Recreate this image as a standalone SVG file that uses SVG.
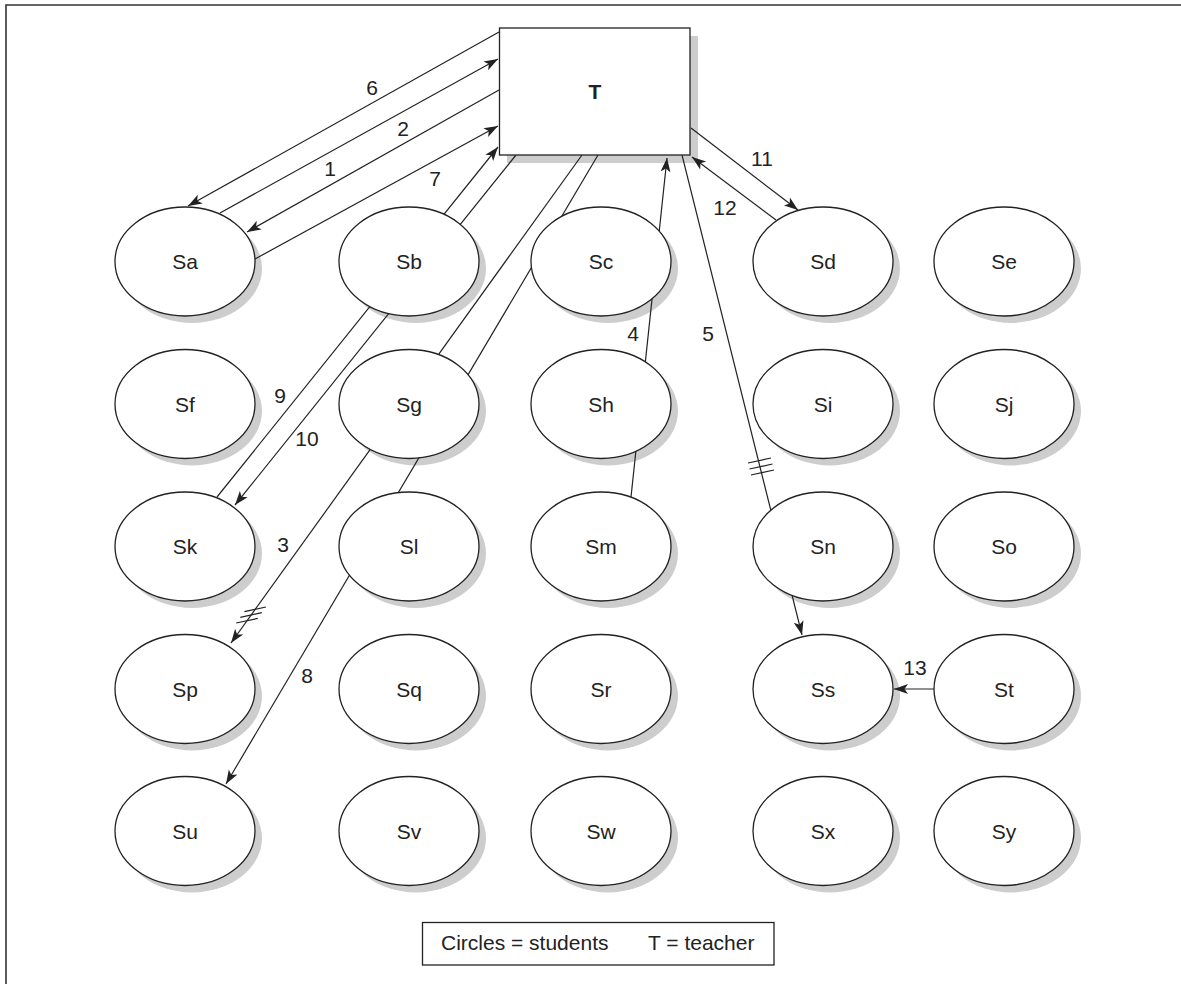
<svg xmlns="http://www.w3.org/2000/svg" width="1181" height="984" viewBox="0 0 1181 984">
<style>
.sh{fill:#cdcdcd;stroke:none}
.st{fill:#fff;stroke:#222;stroke-width:1.3}
.lb{font-family:"Liberation Sans",Arial,sans-serif;font-size:21px;fill:#222;text-anchor:middle}
.ln{stroke:#222;stroke-width:1.2;fill:none}
.ar{marker-end:url(#ah)}
</style>
<defs>
<marker id="ah" markerUnits="userSpaceOnUse" markerWidth="16" markerHeight="12" viewBox="0 -6 16 12" refX="14" refY="0" orient="auto">
<path d="M0,-5 L14,0 L0,5 L3.5,0 Z" fill="#222"/>
</marker>
<ellipse id="shE" rx="70" ry="54.5"/>
</defs>
<rect width="1181" height="984" fill="#fff"/>
<path d="M6,984 V5 H1181" fill="none" stroke="#333" stroke-width="1.6"/>

<g id="shadows" class="sh">
<rect x="507" y="36" width="191" height="127"/>
<use href="#shE" x="192" y="268.5"/><use href="#shE" x="416" y="268.5"/><use href="#shE" x="608" y="268.5"/><use href="#shE" x="830" y="268.5"/><use href="#shE" x="1011" y="268.5"/>
<use href="#shE" x="192" y="411"/><use href="#shE" x="416" y="411"/><use href="#shE" x="608" y="411"/><use href="#shE" x="830" y="411"/><use href="#shE" x="1011" y="411"/>
<use href="#shE" x="192" y="553.5"/><use href="#shE" x="416" y="553.5"/><use href="#shE" x="608" y="553.5"/><use href="#shE" x="830" y="553.5"/><use href="#shE" x="1011" y="553.5"/>
<use href="#shE" x="192" y="696"/><use href="#shE" x="416" y="696"/><use href="#shE" x="608" y="696"/><use href="#shE" x="830" y="696"/><use href="#shE" x="1011" y="696"/>
<use href="#shE" x="192" y="838"/><use href="#shE" x="416" y="838"/><use href="#shE" x="608" y="838"/><use href="#shE" x="830" y="838"/><use href="#shE" x="1011" y="838"/>
</g>

<g id="connectors">
<line class="ln ar" x1="499" y1="32" x2="188" y2="206"/>
<line class="ln ar" x1="220" y1="213" x2="498" y2="59"/>
<line class="ln ar" x1="499" y1="90" x2="247" y2="232"/>
<line class="ln ar" x1="255" y1="259" x2="498" y2="126"/>
<line class="ln ar" x1="217" y1="497" x2="498" y2="147"/>
<line class="ln ar" x1="516" y1="155" x2="235" y2="505"/>
<line class="ln ar" x1="582" y1="155" x2="231" y2="643"/>
<line class="ln ar" x1="598" y1="155" x2="226" y2="784"/>
<line class="ln ar" x1="631" y1="497" x2="667" y2="158"/>
<line class="ln ar" x1="682" y1="155" x2="802" y2="635"/>
<line class="ln ar" x1="691" y1="128" x2="798" y2="210"/>
<line class="ln ar" x1="776" y1="220" x2="692" y2="157"/>
<line class="ln ar" x1="935" y1="689" x2="894" y2="689"/>
<g class="ln">
<path d="M236.2,623 L257.7,618.4 M240.3,617.3 L261.8,612.7 M244.4,611.6 L265.9,607"/>
<path d="M748,463 L771,458 M749.5,469 L772.5,464 M751,475 L774,470"/>
</g>
<g class="lb">
<text x="372" y="95">6</text>
<text x="403" y="135.5">2</text>
<text x="330" y="175.5">1</text>
<text x="435" y="185.5">7</text>
<text x="762" y="165.5">11</text>
<text x="725" y="214.5">12</text>
<text x="280" y="402.5">9</text>
<text x="307" y="445.5">10</text>
<text x="283" y="551.5">3</text>
<text x="307" y="682.5">8</text>
<text x="633" y="340.5">4</text>
<text x="708" y="340.5">5</text>
<text x="915" y="674.5">13</text>
</g>
</g>

<g id="T">
<rect class="st" x="499.5" y="28" width="190.5" height="127"/>
<text class="lb" x="595" y="99" font-weight="bold" font-size="20">T</text>
</g>

<g id="Sa"><ellipse class="st" cx="185" cy="261.5" rx="70" ry="54.5"/><text class="lb" x="185" y="269">Sa</text></g>
<g id="Sb"><ellipse class="st" cx="409" cy="261.5" rx="70" ry="54.5"/><text class="lb" x="409" y="269">Sb</text></g>
<g id="Sc"><ellipse class="st" cx="601" cy="261.5" rx="70" ry="54.5"/><text class="lb" x="601" y="269">Sc</text></g>
<g id="Sd"><ellipse class="st" cx="823" cy="261.5" rx="70" ry="54.5"/><text class="lb" x="823" y="269">Sd</text></g>
<g id="Se"><ellipse class="st" cx="1004" cy="261.5" rx="70" ry="54.5"/><text class="lb" x="1004" y="269">Se</text></g>

<g id="Sf"><ellipse class="st" cx="185" cy="404" rx="70" ry="54.5"/><text class="lb" x="185" y="411.5">Sf</text></g>
<g id="Sg"><ellipse class="st" cx="409" cy="404" rx="70" ry="54.5"/><text class="lb" x="409" y="411.5">Sg</text></g>
<g id="Sh"><ellipse class="st" cx="601" cy="404" rx="70" ry="54.5"/><text class="lb" x="601" y="411.5">Sh</text></g>
<g id="Si"><ellipse class="st" cx="823" cy="404" rx="70" ry="54.5"/><text class="lb" x="823" y="411.5">Si</text></g>
<g id="Sj"><ellipse class="st" cx="1004" cy="404" rx="70" ry="54.5"/><text class="lb" x="1004" y="411.5">Sj</text></g>

<g id="Sk"><ellipse class="st" cx="185" cy="546.5" rx="70" ry="54.5"/><text class="lb" x="185" y="554">Sk</text></g>
<g id="Sl"><ellipse class="st" cx="409" cy="546.5" rx="70" ry="54.5"/><text class="lb" x="409" y="554">Sl</text></g>
<g id="Sm"><ellipse class="st" cx="601" cy="546.5" rx="70" ry="54.5"/><text class="lb" x="601" y="554">Sm</text></g>
<g id="Sn"><ellipse class="st" cx="823" cy="546.5" rx="70" ry="54.5"/><text class="lb" x="823" y="554">Sn</text></g>
<g id="So"><ellipse class="st" cx="1004" cy="546.5" rx="70" ry="54.5"/><text class="lb" x="1004" y="554">So</text></g>

<g id="Sp"><ellipse class="st" cx="185" cy="689" rx="70" ry="54.5"/><text class="lb" x="185" y="696.5">Sp</text></g>
<g id="Sq"><ellipse class="st" cx="409" cy="689" rx="70" ry="54.5"/><text class="lb" x="409" y="696.5">Sq</text></g>
<g id="Sr"><ellipse class="st" cx="601" cy="689" rx="70" ry="54.5"/><text class="lb" x="601" y="696.5">Sr</text></g>
<g id="Ss"><ellipse class="st" cx="823" cy="689" rx="70" ry="54.5"/><text class="lb" x="823" y="696.5">Ss</text></g>
<g id="St"><ellipse class="st" cx="1004" cy="689" rx="70" ry="54.5"/><text class="lb" x="1004" y="696.5">St</text></g>

<g id="Su"><ellipse class="st" cx="185" cy="831" rx="70" ry="54.5"/><text class="lb" x="185" y="838.5">Su</text></g>
<g id="Sv"><ellipse class="st" cx="409" cy="831" rx="70" ry="54.5"/><text class="lb" x="409" y="838.5">Sv</text></g>
<g id="Sw"><ellipse class="st" cx="601" cy="831" rx="70" ry="54.5"/><text class="lb" x="601" y="838.5">Sw</text></g>
<g id="Sx"><ellipse class="st" cx="823" cy="831" rx="70" ry="54.5"/><text class="lb" x="823" y="838.5">Sx</text></g>
<g id="Sy"><ellipse class="st" cx="1004" cy="831" rx="70" ry="54.5"/><text class="lb" x="1004" y="838.5">Sy</text></g>

<g id="legend">
<rect x="422.5" y="922.5" width="351.5" height="42.5" fill="#fff" stroke="#222" stroke-width="1.3"/>
<text class="lb" style="text-anchor:start" y="950"><tspan x="441">Circles = students</tspan><tspan x="648">T = teacher</tspan></text>
</g>
</svg>
